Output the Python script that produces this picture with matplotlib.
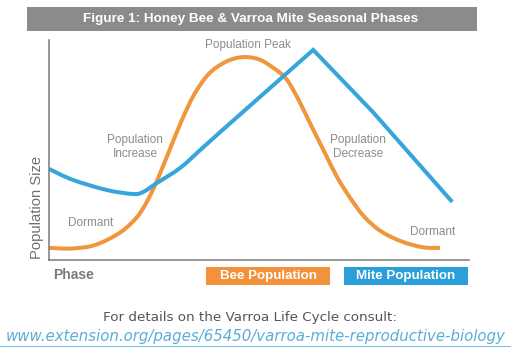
import matplotlib
matplotlib.use("Agg")
import matplotlib.pyplot as plt
from matplotlib.patches import Rectangle, PathPatch
from matplotlib.path import Path

# ---- data (arbitrary phase units 0-100, population 0-100) ----
bee_x = [0, 5, 10, 14, 18, 21.7, 25, 28.5, 31.5, 34.5, 38, 42, 46, 50, 53.5, 56.5,
         59.5, 62.5, 65.5, 68.5, 71.5, 75, 79, 84, 89, 93.1]
bee_y = [5.5, 5.2, 6.3, 9.3, 14, 21.4, 33, 49, 63, 75, 84.5, 90, 92.2, 91.2, 87.2, 82.3,
         72.5, 60.8, 49.4, 38, 28.8, 19.8, 13.1, 8.4, 5.8, 5.5]
mite_x = [0, 5.7, 13.8, 20.0, 22.4, 25.7, 31.2, 36.0, 41.2, 62.9, 77.1, 96.0]
mite_y = [41.4, 36.4, 31.8, 30.0, 30.9, 35.0, 41.8, 50.0, 58.9, 95.5, 67.3, 26.4]
mite_smooth_until = 8  # first points drawn as a smooth curve, rest straight

title = "Figure 1: Honey Bee & Varroa Mite Seasonal Phases"
series_names = ["Bee Population", "Mite Population"]
phase_labels = [("Population Peak", 47.4, 97.7), ("Population\nIncrease", 20.5, 51.4),
                ("Population\nDecrease", 73.6, 51.4), ("Dormant", 9.8, 16.8),
                ("Dormant", 91.4, 12.7)]
footer = "For details on the Varroa Life Cycle consult:"
url = "www.extension.org/pages/65450/varroa-mite-reproductive-biology"

ORANGE = "#f0963c"
BLUE = "#36a6da"
GRAY_TXT = "#8c8c8c"

W, H = 512, 359
fig = plt.figure(figsize=(W / 100, H / 100), dpi=100)
fig.patch.set_facecolor("white")

def fx(px):
    return px / W

def fy(py):
    return (H - py) / H

def smooth_path(xs, ys):
    pts = list(zip(xs, ys))
    verts = [pts[0]]
    codes = [Path.MOVETO]
    n = len(pts)
    for i in range(n - 1):
        p0 = pts[max(i - 1, 0)]
        p1 = pts[i]
        p2 = pts[i + 1]
        p3 = pts[min(i + 2, n - 1)]
        c1 = (p1[0] + (p2[0] - p0[0]) / 6, p1[1] + (p2[1] - p0[1]) / 6)
        c2 = (p2[0] - (p3[0] - p1[0]) / 6, p2[1] - (p3[1] - p1[1]) / 6)
        verts += [c1, c2, p2]
        codes += [Path.CURVE4] * 3
    return verts, codes

ax = fig.add_axes([fx(49), fy(260), (469 - 49) / W, (260 - 40) / H])

bv, bc = smooth_path(bee_x, bee_y)
ax.add_patch(PathPatch(Path(bv, bc), fill=False, edgecolor=ORANGE, lw=2.9,
                       capstyle="butt", joinstyle="round"))

k = mite_smooth_until
mv, mc = smooth_path(mite_x[:k], mite_y[:k])
for x, y in zip(mite_x[k:], mite_y[k:]):
    mv.append((x, y))
    mc.append(Path.LINETO)
ax.add_patch(PathPatch(Path(mv, mc), fill=False, edgecolor=BLUE, lw=2.9,
                       capstyle="butt", joinstyle="miter"))

ax.set_xlim(0, 100)
ax.set_ylim(0, 100)
for s in ["top", "right"]:
    ax.spines[s].set_visible(False)
for s in ["left", "bottom"]:
    ax.spines[s].set_color("#7a7a7a")
    ax.spines[s].set_linewidth(1.1)
ax.set_xticks([])
ax.set_yticks([])

for txt, x, y in phase_labels:
    ax.text(x, y, txt, ha="center", va="center", fontsize=8.5, color=GRAY_TXT,
            family="Liberation Sans", linespacing=1.2)

# title bar
fig.patches.append(Rectangle((fx(27), fy(31)), 450 / W, 24 / H, transform=fig.transFigure,
                             facecolor="#8b8b8b", edgecolor="none"))
fig.text(fx(251), fy(19), title, ha="center", va="center", color="white",
         fontsize=9.7, fontweight="bold", family="Liberation Sans")

# axis labels
fig.text(fx(37), fy(207), "Population Size", rotation=90, ha="center", va="center",
         fontsize=10.6, color="#6e6e6e", family="Liberation Sans")
fig.text(fx(53), fy(275), "Phase", ha="left", va="center", fontsize=10,
         fontweight="bold", color="#7a7a7a", family="Liberation Sans")

# legend boxes
for name, col, x0 in [(series_names[0], "#f3923a", 206), (series_names[1], "#2b9fd9", 344)]:
    fig.patches.append(Rectangle((fx(x0), fy(285)), 124 / W, 18 / H, transform=fig.transFigure,
                                 facecolor=col, edgecolor="none"))
    fig.text(fx(x0 + 62), fy(276), name, ha="center", va="center", color="white",
             fontsize=9.6, fontweight="bold", family="Liberation Sans")

# footer
fig.text(fx(250), fy(318), footer, ha="center", va="center", fontsize=9.7,
         color="#555555", family="DejaVu Sans")
fig.text(fx(506), fy(337), url, ha="right", va="center", fontsize=10.8,
         color="#5aaed8", family="DejaVu Sans", style="italic")
fig.add_artist(plt.Line2D([0, fx(510)], [fy(346), fy(346)], transform=fig.transFigure,
                          color="#7fc0e2", lw=0.8))

fig.savefig("out.png", dpi=100)
